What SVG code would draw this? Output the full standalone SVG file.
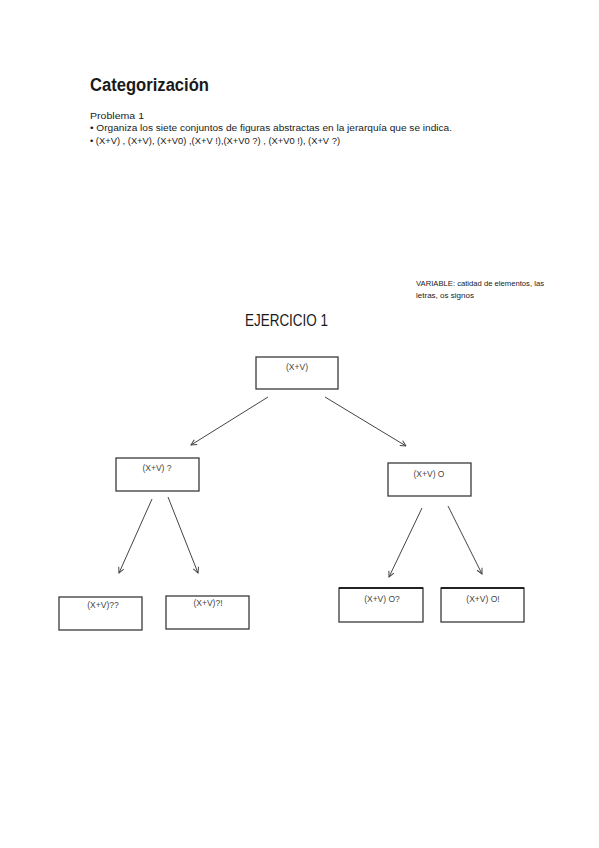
<svg xmlns="http://www.w3.org/2000/svg" width="599" height="848" viewBox="0 0 599 848">
<defs>
<style>
.box{fill:#fff;stroke:#3a3a3a;stroke-width:1.3}
.lbl{font-family:"Liberation Sans",Arial,sans-serif;font-size:8.5px;fill:#444;text-anchor:middle}
.edge{stroke:#444;stroke-width:1;fill:none;marker-end:url(#ah)}
.hdr{font-family:"Liberation Sans",Arial,sans-serif;fill:#1a1a1a}
</style>
<marker id="ah" viewBox="0 0 10 10" refX="9" refY="5" markerWidth="7" markerHeight="7" orient="auto" markerUnits="userSpaceOnUse">
<path d="M1,1 L9,5 L1,9" fill="none" stroke="#444" stroke-width="1.4"/>
</marker>
</defs>
<rect width="599" height="848" fill="#fff"/>
<g id="header">
<text class="hdr" x="90" y="91" font-size="17.5" font-weight="bold" textLength="119" lengthAdjust="spacingAndGlyphs">Categorización</text>
<text class="hdr" x="90" y="119" font-size="8.5" textLength="54" lengthAdjust="spacingAndGlyphs">Problema 1</text>
<text class="hdr" x="90" y="131" font-size="8.5" textLength="362" lengthAdjust="spacingAndGlyphs">• Organiza los siete conjuntos de figuras abstractas en la jerarquía que se indica.</text>
<text class="hdr" x="90" y="144" font-size="8.5" textLength="250" lengthAdjust="spacingAndGlyphs">• (X+V) , (X+V), (X+V0) ,(X+V !),(X+V0 ?) , (X+V0 !), (X+V ?)</text>
</g>
<g id="note">
<text class="hdr" x="416" y="286" font-size="7" fill="#555" textLength="128" lengthAdjust="spacingAndGlyphs">VARIABLE: catidad de elementos, las</text>
<text class="hdr" x="416" y="298" font-size="7" fill="#555" textLength="58" lengthAdjust="spacingAndGlyphs">letras, os signos</text>
</g>
<text id="title" class="hdr" x="245" y="326" font-size="17" fill="#333" textLength="83" lengthAdjust="spacingAndGlyphs">EJERCICIO 1</text>
<g id="connectors">
<line class="edge" x1="268" y1="397" x2="191" y2="445"/>
<line class="edge" x1="325" y1="397" x2="406" y2="446"/>
<line class="edge" x1="152" y1="499" x2="119" y2="573"/>
<line class="edge" x1="168" y1="497" x2="198" y2="573"/>
<line class="edge" x1="422" y1="508" x2="389" y2="577"/>
<line class="edge" x1="448" y1="506" x2="482" y2="574"/>
</g>
<g id="n-root"><rect class="box" x="256" y="357" width="82" height="32"/><text class="lbl" x="297" y="370">(X+V)</text></g>
<g id="n-q"><rect class="box" x="116" y="458" width="83" height="33"/><text class="lbl" x="157" y="471">(X+V) ?</text></g>
<g id="n-o"><rect class="box" x="388" y="463" width="83" height="33"/><text class="lbl" x="429" y="477">(X+V) O</text></g>
<g id="n-qq"><rect class="box" x="59" y="597" width="83" height="33"/><text class="lbl" x="103" y="608">(X+V)??</text></g>
<g id="n-qe"><rect class="box" x="166" y="596" width="83" height="33"/><text class="lbl" x="208" y="606">(X+V)?!</text></g>
<g id="n-oq"><rect class="box" x="339" y="588" width="84" height="34"/><line x1="339" y1="588" x2="423" y2="588" stroke="#222" stroke-width="2"/><text class="lbl" x="382" y="602">(X+V) O?</text></g>
<g id="n-oe"><rect class="box" x="441" y="588" width="83" height="34"/><line x1="441" y1="588" x2="524" y2="588" stroke="#222" stroke-width="2"/><text class="lbl" x="483" y="602">(X+V) O!</text></g>
</svg>
